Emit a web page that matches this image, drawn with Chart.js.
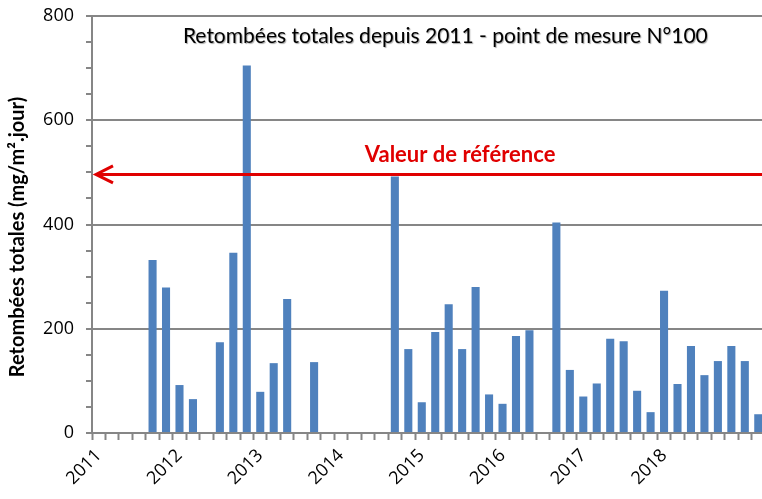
<!DOCTYPE html>
<html>
<head>
<meta charset="utf-8">
<script src="https://cdn.jsdelivr.net/npm/chart.js@4"></script>
<style>
html, body { margin: 0; padding: 0; overflow: hidden; background: #fff; }
#wrap { width: 765px; height: 499px; }
</style>
</head>
<body>
<div id="wrap"><canvas id="chart"></canvas></div>
<script>
// periodes de mesure (2 mois)
var periods = [
    '2011-1', '2011-2', '2011-3', '2011-4', '2011-5', '2011-6',
    '2012-1', '2012-2', '2012-3', '2012-4', '2012-5', '2012-6',
    '2013-1', '2013-2', '2013-3', '2013-4', '2013-5', '2013-6',
    '2014-1', '2014-2', '2014-3', '2014-4', '2014-5', '2014-6',
    '2015-1', '2015-2', '2015-3', '2015-4', '2015-5', '2015-6',
    '2016-1', '2016-2', '2016-3', '2016-4', '2016-5', '2016-6',
    '2017-1', '2017-2', '2017-3', '2017-4', '2017-5', '2017-6',
    '2018-1', '2018-2', '2018-3', '2018-4', '2018-5', '2018-6',
    '2019-1', '2019-2'
];
var values = [
    null, null, null, null, 332, 279, 92, 65, null, 174,
    346, 705, 79, 134, 257, null, 136, null, null, null,
    null, null, 492, 161, 59, 194, 247, 161, 280, 74,
    56, 186, 197, null, 404, 121, 70, 95, 181, 176,
    81, 40, 273, 94, 167, 111, 138, 167, 138, 36
];
var yearLabels = ['2011', '2012', '2013', '2014', '2015', '2016', '2017', '2018'];
var referenceValue = 496;

var grey = '#868686';
var red = '#E00000';

var overlay = {
    id: 'overlay',
    afterDatasetsDraw(chart) {
        var ctx = chart.ctx;
        var a = chart.chartArea;
        var y = chart.scales.y.getPixelForValue(referenceValue);
        ctx.save();
        ctx.strokeStyle = red;
        ctx.lineWidth = 3;
        ctx.beginPath();
        ctx.moveTo(a.left + 4, y);
        ctx.lineTo(a.right, y);
        ctx.stroke();
        ctx.beginPath();
        ctx.moveTo(a.left + 21, y - 8.5);
        ctx.lineTo(a.left + 4, y);
        ctx.lineTo(a.left + 21, y + 8.5);
        ctx.stroke();

        ctx.fillStyle = red;
        ctx.font = 'bold 22px Lato';
        ctx.textAlign = 'center';
        ctx.textBaseline = 'alphabetic';
        ctx.fillText('Valeur de référence', a.left + 0.547 * (a.right - a.left), y - 12);

        // titre de l'axe y, un peu plus bas que le milieu comme dans Excel
        ctx.fillStyle = '#000';
        ctx.font = 'bold 20px Lato';
        ctx.save();
        ctx.translate(18, a.top + 0.53 * (a.bottom - a.top));
        ctx.rotate(-Math.PI / 2);
        ctx.textBaseline = 'middle';
        ctx.fillText('Retombées totales (mg/m².jour)', 0, 0);
        ctx.restore();

        ctx.font = '21px Lato';
        ctx.shadowColor = 'rgba(0,0,0,0.35)';
        ctx.shadowOffsetX = 1;
        ctx.shadowOffsetY = 1;
        ctx.shadowBlur = 1;
        ctx.fillText('Retombées totales depuis 2011 - point de mesure N°100', a.left + 0.525 * (a.right - a.left), a.top + 27);
        ctx.restore();
    }
};

new Chart(document.querySelector('#chart'), {
    type: 'bar',
    data: {
        labels: periods,
        datasets: [{
            data: values,
            backgroundColor: '#4F81BD',
            categoryPercentage: 1,
            barPercentage: 0.6
        }]
    },
    options: {
        responsive: true,
        maintainAspectRatio: false,
        animation: false,
        layout: { padding: { top: 16, right: 0, bottom: 0, left: 0 } },
        plugins: {
            legend: { display: false },
            tooltip: { enabled: false }
        },
        scales: {
            x: {
                grid: { offset: true, drawOnChartArea: false, tickLength: 7, tickColor: grey, tickWidth: 2 },
                border: { color: grey, width: 2 },
                ticks: {
                    autoSkip: false,
                    maxRotation: 45,
                    minRotation: 45,
                    padding: 5,
                    color: '#000',
                    font: { family: '"Open Sans"', size: 18 },
                    callback: function (v, i) {
                        return i % 6 === 0 && yearLabels[i / 6] ? yearLabels[i / 6] : '';
                    }
                },
                afterFit: function (s) {
                    s.height = 66;
                    s.paddingLeft = 0;
                    s.paddingRight = 0;
                }
            },
            y: {
                min: 0,
                max: 800,
                ticks: {
                    stepSize: 50,
                    autoSkip: false,
                    padding: 12,
                    color: '#000',
                    font: { family: '"Open Sans"', size: 18 },
                    callback: function (v) { return v % 200 === 0 ? v : ''; }
                },
                grid: {
                    color: function (c) { return c.tick && c.tick.value % 200 === 0 ? grey : 'rgba(0,0,0,0)'; },
                    lineWidth: 2,
                    tickLength: 6,
                    tickColor: grey,
                    tickWidth: 2
                },
                border: { color: grey, width: 2 },
                afterFit: function (s) {
                    s.width = 92;
                    s.paddingTop = 0;
                    s.paddingBottom = 0;
                }
            }
        }
    },
    plugins: [overlay]
});
</script>
</body>
</html>
